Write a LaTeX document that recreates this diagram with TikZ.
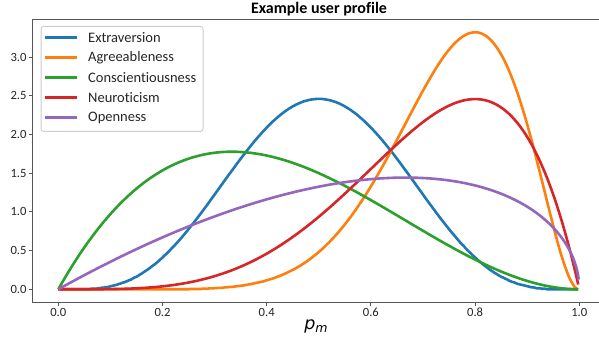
\documentclass[tikz,border=0pt]{standalone}
\usepackage{fontspec}
\setmainfont[Ligatures=NoCommon]{Carlito}
\newfontfamily\djv{DejaVu Sans}
\definecolor{tabblue}{HTML}{1F77B4}
\definecolor{taborange}{HTML}{FF7F0E}
\definecolor{tabgreen}{HTML}{2CA02C}
\definecolor{tabred}{HTML}{D62728}
\definecolor{tabpurple}{HTML}{9467BD}
\definecolor{spinecol}{HTML}{555555}
\tikzset{
  curve/.style={line width=2.6pt, line join=round},
  spine/.style={draw=spinecol, line width=1.2pt},
  tick/.style={draw=spinecol, line width=1pt},
  ticklab/.style={font=\fontsize{12.6}{14}\selectfont, text=black!85, inner sep=0pt},
  legtext/.style={font=\fontsize{14.5}{16}\selectfont, text=black!85, anchor=west, inner sep=0pt},
  legline/.style={line width=2.6pt},
}
\begin{document}
\begin{tikzpicture}[x=1pt,y=1pt]
\useasboundingbox (0,0) rectangle (599,337);
\fill[white] (0,0) rectangle (599,337);
% data scope
\begin{scope}[shift={(58.3pt,47.7pt)}, x=521pt, y=77.4pt]
  \draw[curve, tabblue] plot[domain=0:0.999, samples=300, smooth] (\x,{630*(\x)^4*(1-\x)^4});
  \draw[curve, taborange] plot[domain=0:0.999, samples=300, smooth] (\x,{495*(\x)^8*(1-\x)^2});
  \draw[curve, tabgreen] plot[domain=0:0.999, samples=300, smooth] (\x,{12*\x*(1-\x)^2});
  \draw[curve, tabred] plot[domain=0:0.999, samples=300, smooth] (\x,{30*(\x)^4*(1-\x)});
  \draw[curve, tabpurple] plot[domain=0:0.9, samples=120, smooth] (\x,{3.75*\x*sqrt(abs(1-\x))})
     -- plot[domain=0.9:0.999, samples=120, smooth] (\x,{3.75*\x*sqrt(abs(1-\x))});
  % y ticks
  \foreach \v in {0.0,0.5,1.0,1.5,2.0,2.5,3.0} {
    \draw[tick] (-0.05,\v) -- ++(-3.5pt,0);
    \node[ticklab, anchor=east] (yl\v) at ([xshift=-5.5pt]-0.05,\v) {\v};
  }
  % x ticks
  \foreach \v in {0.0,0.2,0.4,0.6,0.8,1.0} {
    \draw[tick] (\v,-0.1655) -- ++(0,-3.5pt);
    \node[ticklab, anchor=north] (xl\v) at ([yshift=-6pt]\v,-0.1655) {\v};
  }
\end{scope}
% spines
\draw[spine] (32.3,317.5) -- (32.3,34.8) -- (610,34.8);
\draw[spine] (32.3,317.5) -- (610,317.5);
% legend
\node[draw=black!20, fill=white, fill opacity=0.8, rounded corners=2.5pt, line width=0.8pt,
      minimum width=162pt, minimum height=105pt, anchor=north west, inner sep=0pt] (legend) at (40.7,311) {};
\foreach \c/\t/\yy in {tabblue/Extraversion/299.7, taborange/Agreeableness/279.7, tabgreen/Conscientiousness/259.5, tabred/Neuroticism/239.3, tabpurple/Openness/219.3} {
  \draw[legline, \c] (45,\yy) -- (77,\yy);
  \node[legtext] (leg\t) at (88,\yy) {\t};
}
% title and label
\node[font=\bfseries\fontsize{16}{18}\selectfont, inner sep=0pt, anchor=base] (title) at (319,323.7) {Example user profile};
\node[font=\djv\fontsize{17.5}{19}\selectfont, inner sep=0pt] (xlabel) at (316,11) {\itshape p\raisebox{-0.35ex}{\fontsize{12.5}{13}\selectfont m}};
\end{tikzpicture}
\end{document}
